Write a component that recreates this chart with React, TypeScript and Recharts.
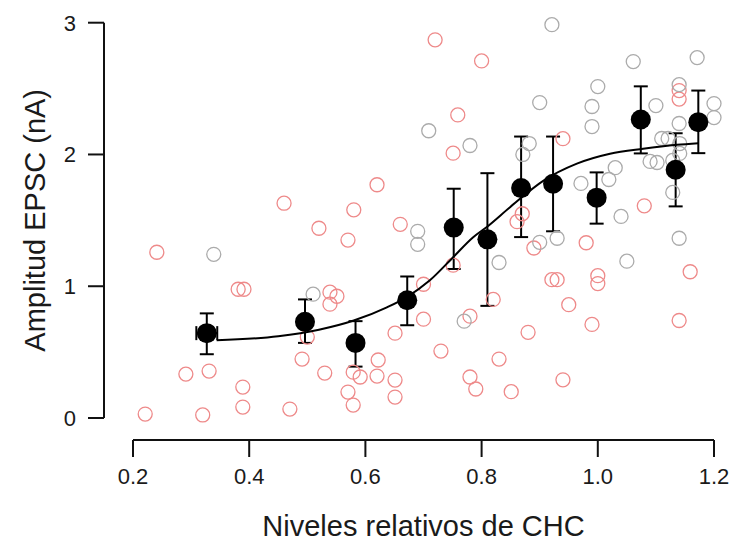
import { ScatterChart, Scatter, XAxis, YAxis, ErrorBar } from "recharts";

// individual cells, low CHC (pink)
const pinkX = [
  0.72, 0.8, 0.759, 0.751, 0.62, 0.58, 0.46, 1.14, 1.14, 0.94, 1.08, 0.87, 0.861,
  0.89, 0.98, 1.159, 0.921, 0.93, 1.0, 1.0, 0.95, 0.99, 1.14, 0.88, 0.94, 0.851,
  0.52, 0.66, 0.57, 0.751, 0.7, 0.539, 0.551, 0.539, 0.82, 0.7, 0.78, 0.651, 0.73,
  0.83, 0.622, 0.53, 0.579, 0.591, 0.62, 0.651, 0.78, 0.79, 0.57, 0.651, 0.579,
  0.241, 0.381, 0.391, 0.5, 0.491, 0.291, 0.331, 0.389, 0.221, 0.32, 0.389, 0.47,
];
const pinkY = [
  2.87, 2.71, 2.3, 2.01, 1.77, 1.58, 1.63, 2.485, 2.42, 2.12, 1.61, 1.55, 1.49,
  1.29, 1.33, 1.11, 1.05, 1.05, 1.08, 1.02, 0.86, 0.71, 0.74, 0.65, 0.29, 0.2,
  1.44, 1.47, 1.35, 1.16, 1.015, 0.955, 0.924, 0.864, 0.9, 0.75, 0.773, 0.644, 0.508,
  0.447, 0.44, 0.341, 0.348, 0.311, 0.318, 0.288, 0.311, 0.22, 0.197, 0.159, 0.098,
  1.258, 0.977, 0.977, 0.614, 0.447, 0.333, 0.356, 0.235, 0.03, 0.023, 0.083, 0.068,
];

// individual cells, high CHC (gray)
const grayX = [
  0.921, 1.061, 1.171, 1.0, 0.9, 0.99, 0.99, 1.1, 1.14, 1.2, 1.2, 1.14, 0.882,
  0.871, 1.11, 1.121, 1.141, 1.141, 1.09, 1.102, 1.129, 1.03, 1.019, 0.971, 1.129,
  1.04, 0.9, 0.93, 1.14, 1.05, 0.709, 0.78, 0.69, 0.69, 0.83, 0.77, 0.339, 0.51,
];
const grayY = [
  2.985, 2.705, 2.735, 2.515, 2.394, 2.364, 2.212, 2.371, 2.53, 2.386, 2.28, 2.235, 2.083,
  2.0, 2.121, 2.121, 2.083, 2.008, 1.947, 1.939, 1.955, 1.9, 1.81, 1.78, 1.712,
  1.53, 1.333, 1.364, 1.364, 1.19, 2.18, 2.068, 1.417, 1.318, 1.18, 0.735, 1.242, 0.94,
];

// binned means with SEM
const meanX = [0.327, 0.496, 0.583, 0.672, 0.752, 0.81, 0.868, 0.923, 0.998, 1.074, 1.134, 1.173];
const meanY = [0.644, 0.73, 0.57, 0.894, 1.445, 1.356, 1.745, 1.778, 1.672, 2.265, 1.884, 2.245];
const errLow = [0.16, 0.16, 0.18, 0.19, 0.314, 0.505, 0.372, 0.361, 0.197, 0.257, 0.278, 0.235];
const errHigh = [0.15, 0.17, 0.165, 0.18, 0.295, 0.502, 0.391, 0.358, 0.192, 0.252, 0.277, 0.24];
const errX = [0.018, 0, 0, 0, 0, 0, 0, 0, 0, 0, 0, 0];

// sigmoid fit
const fitX = [0.344, 0.45, 0.52, 0.58, 0.637, 0.672, 0.711, 0.751, 0.785, 0.809, 0.849, 0.906, 0.964, 1.021, 1.078, 1.136, 1.173];
const fitY = [0.59, 0.62, 0.67, 0.74, 0.84, 0.92, 1.045, 1.22, 1.37, 1.45, 1.6, 1.8, 1.93, 2.005, 2.043, 2.073, 2.086];

const xTicks = [0.2, 0.4, 0.6, 0.8, 1.0, 1.2];
const yTicks = [0, 1, 2, 3];

const pinkData = pinkX.map((x, i) => ({ x, y: pinkY[i] }));
const grayData = grayX.map((x, i) => ({ x, y: grayY[i] }));
const meanData = meanX.map((x, i) => ({ x, y: meanY[i], ey: [errLow[i], errHigh[i]], ex: errX[i] }));
const fitData = fitX.map((x, i) => ({ x, y: fitY[i] }));

const font = "'Liberation Sans', Arial, sans-serif";
const ink = "#1a1a1a";

const ring = (color: string) => (props: any) => (
  <circle cx={props.cx} cy={props.cy} r={7} fill="none" stroke={color} strokeWidth={1.3} />
);

const XTick = (props: any) => (
  <text x={props.x} y={props.y} dy="0.71em" textAnchor="middle" fontSize={22} fontFamily={font} fill={ink}>
    {Number(props.payload.value).toFixed(1)}
  </text>
);

const YTick = (props: any) => (
  <text x={props.x} y={props.y} dy="0.355em" textAnchor="end" fontSize={22} fontFamily={font} fill={ink}>
    {props.payload.value}
  </text>
);

export default function App() {
  return (
    <div style={{ position: "absolute", left: 0, top: 0 }}>
      <ScatterChart width={731} height={541} margin={{ top: 22.7, right: 17, bottom: 3, left: 33 }}>
        <XAxis
          type="number"
          dataKey="x"
          domain={[0.2, 1.2]}
          ticks={xTicks}
          height={120}
          tickSize={17}
          tickMargin={33}
          axisLine={{ stroke: "#111", strokeWidth: 2, style: { transform: "translate(0px, 22px)" } }}
          tickLine={{ stroke: "#111", strokeWidth: 2, style: { transform: "translate(0px, 22px)" } }}
          tick={<XTick />}
          label={{
            value: "Niveles relativos de CHC",
            position: "insideBottom",
            offset: 2,
            style: { fontSize: 29, fill: ink, fontFamily: font },
          }}
        />
        <YAxis
          type="number"
          dataKey="y"
          domain={[0, 3]}
          ticks={yTicks}
          width={100}
          tickSize={16}
          tickMargin={41}
          axisLine={{ stroke: "#111", strokeWidth: 2, style: { transform: "translate(-29px, 0px)" } }}
          tickLine={{ stroke: "#111", strokeWidth: 2, style: { transform: "translate(-29px, 0px)" } }}
          tick={<YTick />}
          label={{
            value: "Amplitud EPSC (nA)",
            angle: -90,
            position: "insideLeft",
            offset: 2,
            style: { textAnchor: "middle", fontSize: 29, fill: ink, fontFamily: font },
          }}
        />
        <Scatter data={pinkData} shape={ring("#EE8A8A")} isAnimationActive={false} />
        <Scatter data={grayData} shape={ring("#ABABAB")} isAnimationActive={false} />
        <Scatter
          data={fitData}
          fill="#000"
          line={{ stroke: "#000", strokeWidth: 2 }}
          lineJointType="monotoneX"
          shape={() => <g />}
          isAnimationActive={false}
        />
        <Scatter
          data={meanData}
          fill="#000"
          shape={(props: any) => <circle cx={props.cx} cy={props.cy} r={10} fill="#000" />}
          isAnimationActive={false}
        >
          <ErrorBar dataKey="ey" direction="y" width={7} stroke="#000" strokeWidth={2} isAnimationActive={false} />
          <ErrorBar dataKey="ex" direction="x" width={7} stroke="#000" strokeWidth={2} isAnimationActive={false} />
        </Scatter>
      </ScatterChart>
    </div>
  );
}
